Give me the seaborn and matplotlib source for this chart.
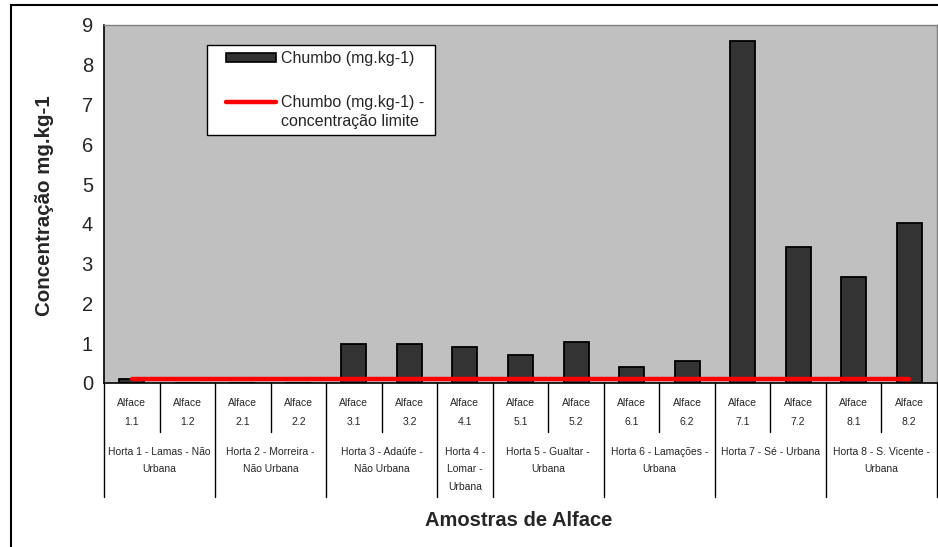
import matplotlib
matplotlib.use("Agg")
import matplotlib.pyplot as plt
import matplotlib.transforms as mtransforms
from matplotlib.lines import Line2D
from matplotlib.patches import Patch, Rectangle
from matplotlib.legend_handler import HandlerLine2D
import seaborn as sns
import pandas as pd

# Lead (Pb) concentration in lettuce samples per vegetable garden
samples = ["1.1", "1.2", "2.1", "2.2", "3.1", "3.2", "4.1", "5.1", "5.2",
           "6.1", "6.2", "7.1", "7.2", "8.1", "8.2"]
chumbo = [0.1, 0.0, 0.0, 0.0, 0.97, 0.97, 0.91, 0.71, 1.02,
          0.41, 0.55, 8.6, 3.42, 2.67, 4.03]
limite = [0.1, 0.1, 0.1, 0.1, 0.1, 0.1, 0.1, 0.1, 0.1,
          0.1, 0.1, 0.1, 0.1, 0.1, 0.1]
hortas = ["Horta 1 - Lamas - Não\nUrbana",
          "Horta 2 - Morreira -\nNão Urbana",
          "Horta 3 - Adaúfe -\nNão Urbana",
          "Horta 4 -\nLomar -\nUrbana",
          "Horta 5 - Gualtar -\nUrbana",
          "Horta 6 - Lamações -\nUrbana",
          "Horta 7 - Sé - Urbana",
          "Horta 8 - S. Vicente -\nUrbana"]
amostras_por_horta = [2, 2, 2, 1, 2, 2, 2, 2]
y_ticks = [0, 1, 2, 3, 4, 5, 6, 7, 8, 9]

sns.set_style("white")
plt.rcParams["font.family"] = ["Liberation Sans", "DejaVu Sans"]

W, H = 938, 547
fig = plt.figure(figsize=(W / 100, H / 100), dpi=100)
fig.patch.set_facecolor("white")


def fy(px):
    return 1 - px / H


class TopLineHandler(HandlerLine2D):
    """Line handle aligned with the first line of a two-line label."""

    def create_artists(self, legend, orig_handle, xdescent, ydescent, width,
                       height, fontsize, trans):
        return super().create_artists(legend, orig_handle, xdescent,
                                      ydescent - 1.375 * fontsize, width, height,
                                      fontsize, trans)


# plot area in pixel coordinates
left, right, top, bottom = 104, 937, 25, 383
ax = fig.add_axes([left / W, 1 - bottom / H, (right - left) / W, (bottom - top) / H])
ax.set_facecolor("#C0C0C0")

df = pd.DataFrame({"amostra": [f"Alface {s}" for s in samples],
                   "chumbo": chumbo, "limite": limite})

sns.barplot(data=df, x="amostra", y="chumbo", ax=ax, color="#333333",
            saturation=1, width=0.45, edgecolor="black", linewidth=1.3)
sns.lineplot(x=list(range(len(samples))), y=df["limite"], ax=ax,
             color="#FF0000", linewidth=3.2, zorder=5)

ax.set_xlim(-0.5, len(samples) - 0.5)
ax.set_ylim(0, 9)
ax.set_yticks(y_ticks)
ax.set_yticklabels([str(t) for t in y_ticks], fontsize=14.5)
ax.tick_params(axis="y", direction="out", length=4, width=1, color="black", pad=4)
ax.set_xticks([])
ax.set_xlabel("")
ax.set_ylabel("")
for side in ["left", "bottom"]:
    ax.spines[side].set_color("black")
    ax.spines[side].set_linewidth(1.2)
for side in ["top", "right"]:
    ax.spines[side].set_color("#808080")
    ax.spines[side].set_linewidth(1.0)

# multi-level category axis below the plot
trans = mtransforms.blended_transform_factory(ax.transData, fig.transFigure)
lab_kw = dict(ha="center", va="center", fontsize=7.5, transform=trans, clip_on=False)
for i, s in enumerate(samples):
    fig.text(i, fy(403), "Alface", **lab_kw)
    fig.text(i, fy(422), s, **lab_kw)

group_edges = [-0.5]
for n in amostras_por_horta:
    group_edges.append(group_edges[-1] + n)

for i in range(len(samples) + 1):
    xb = i - 0.5
    y_end = 497 if xb in group_edges else 432
    fig.add_artist(Line2D([xb, xb], [fy(bottom), fy(y_end)], transform=trans,
                          color="black", linewidth=1.0))

for g, name in enumerate(hortas):
    xc = (group_edges[g] + group_edges[g + 1]) / 2
    for k, line in enumerate(name.split("\n")):
        fig.text(xc, fy(452 + k * 17.5), line, **lab_kw)

# axis titles
fig.text(45 / W, fy(206), "Concentração mg.kg-1", rotation=90, ha="center",
         va="center", fontsize=14.8, fontweight="bold")
fig.text(519 / W, fy(520), "Amostras de Alface", ha="center", va="center",
         fontsize=14.5, fontweight="bold")

# legend, with its box drawn separately
line_handle = Line2D([0], [0], color="#FF0000", linewidth=3.2)
handles = [Patch(facecolor="#333333", edgecolor="black", linewidth=1.2), line_handle]
labels = ["Chumbo (mg.kg-1)", "Chumbo (mg.kg-1) -\nconcentração limite"]
leg = ax.legend(handles, labels, loc="upper left",
                bbox_to_anchor=(226 / W, fy(51)), bbox_transform=fig.transFigure,
                frameon=False, fontsize=11.5, handlelength=3.1, handleheight=0.5,
                handletextpad=0.35, labelspacing=1.83, borderpad=0, borderaxespad=0,
                handler_map={line_handle: TopLineHandler()})
leg.get_texts()[1].set_linespacing(1.3)
leg.set_zorder(10)
ax.add_patch(Rectangle((207 / W, fy(135)), (435 - 207) / W, (135 - 45) / H,
                       transform=fig.transFigure, facecolor="white",
                       edgecolor="black", linewidth=1.0, zorder=8, clip_on=False))

# outer chart frame
fig.add_artist(Rectangle((11 / W, -0.01), 1.0, fy(5) + 0.01, transform=fig.transFigure,
                         fill=False, edgecolor="black", linewidth=1.5))

fig.savefig("out.png", dpi=100)
